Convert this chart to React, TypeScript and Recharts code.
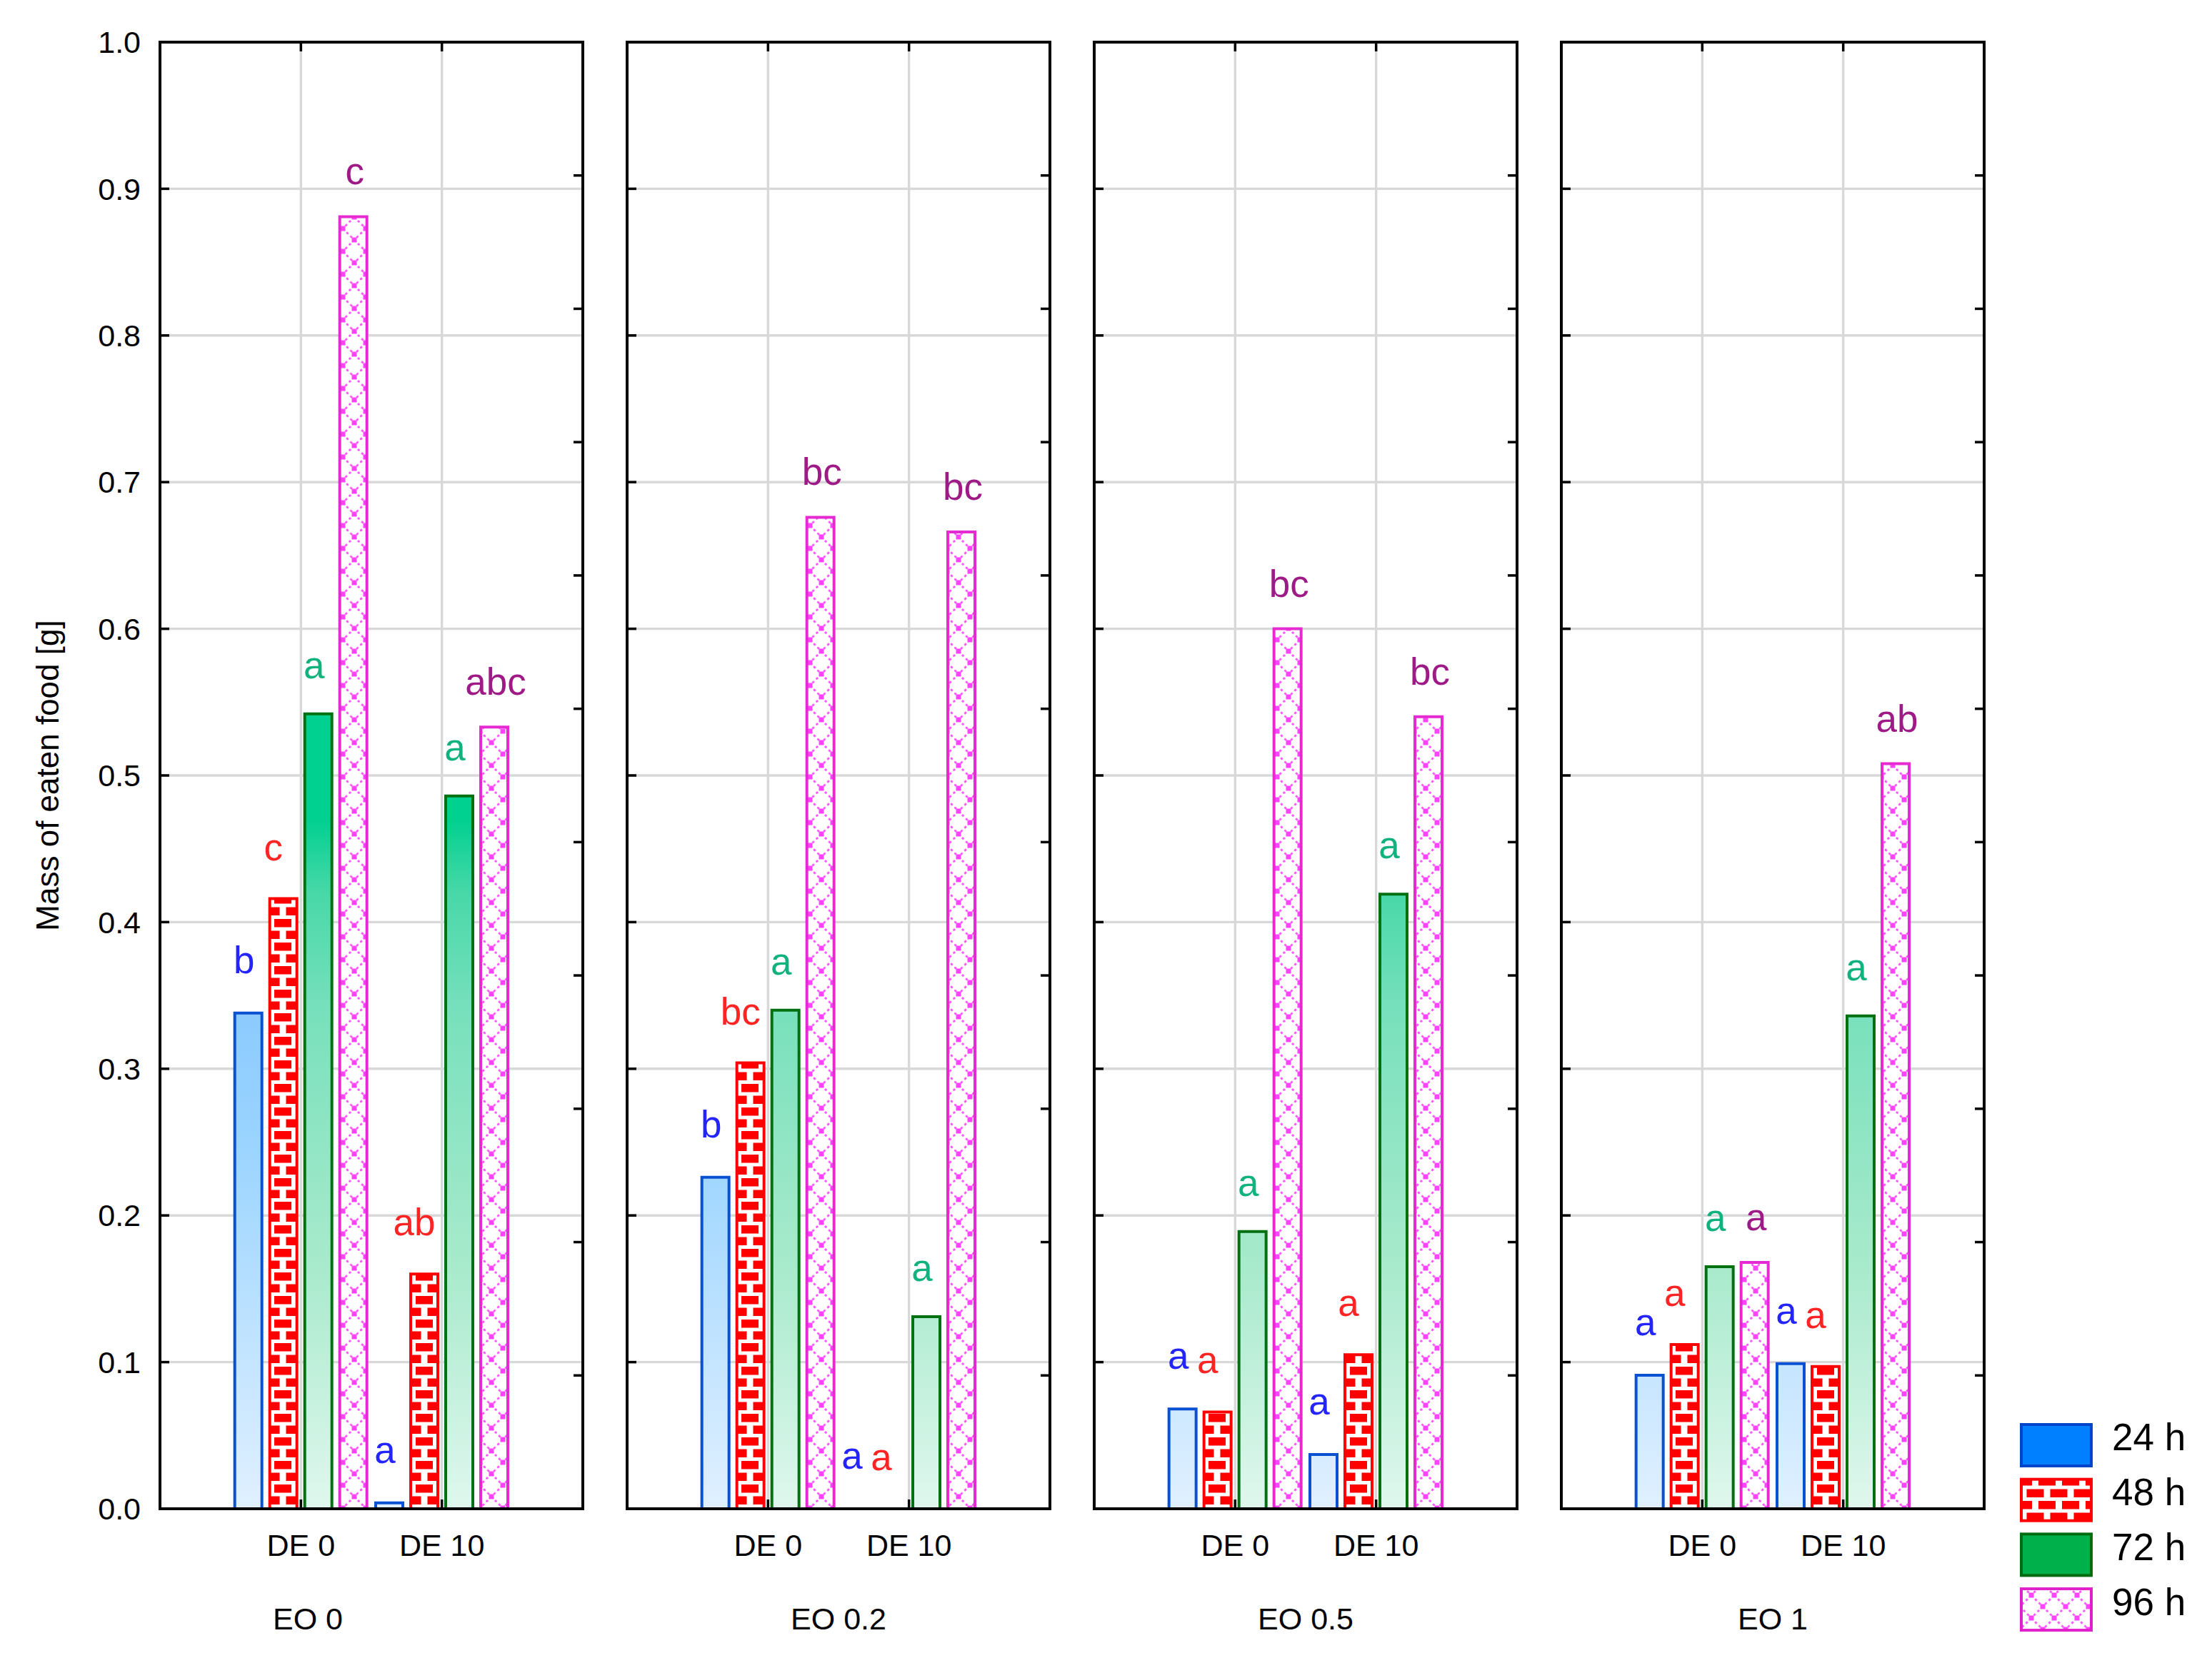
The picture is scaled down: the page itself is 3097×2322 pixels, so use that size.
import React from 'react';
import { BarChart, Bar, XAxis, YAxis, CartesianGrid, LabelList, Cell } from 'recharts';

// ---------- data ----------
const groups = ['EO 0', 'EO 0.2', 'EO 0.5', 'EO 1'];
const categories = ['DE 0', 'DE 10'];
const seriesNames = ['24 h', '48 h', '72 h', '96 h'];
const yTicks = [0, 0.1, 0.2, 0.3, 0.4, 0.5, 0.6, 0.7, 0.8, 0.9, 1.0];
const rightTicks = [0, 1, 2, 3, 4, 5, 6, 7, 8, 9, 10, 11];

// values per group: [DE 0, DE 10]
const values24 = [[0.338, 0.004], [0.226, 0], [0.068, 0.037], [0.091, 0.099]];
const values48 = [[0.416, 0.160], [0.304, 0], [0.066, 0.105], [0.112, 0.097]];
const values72 = [[0.542, 0.486], [0.340, 0.131], [0.189, 0.419], [0.165, 0.336]];
const values96 = [[0.881, 0.533], [0.676, 0.666], [0.600, 0.540], [0.168, 0.508]];

const letters24 = [['b', 'a'], ['b', 'a'], ['a', 'a'], ['a', 'a']];
const letters48 = [['c', 'ab'], ['bc', 'a'], ['a', 'a'], ['a', 'a']];
const letters72 = [['a', 'a'], ['a', 'a'], ['a', 'a'], ['a', 'a']];
const letters96 = [['c', 'abc'], ['bc', 'bc'], ['bc', 'bc'], ['a', 'ab']];

const groupLabelShift = [-89, 0, 0, 0];

// ---------- layout ----------
const PLOT_TOP = 59;
const PLOT_H = 2054;
const PLOT_W = 592;
const AXIS_W = 224;
const PANEL_STEP = 654;
const CHART_W = 836;
const CHART_H = 2322;
const XAXIS_H = 60;
const MARGIN_BOTTOM = CHART_H - PLOT_TOP - PLOT_H - XAXIS_H;
const PAD = PLOT_W / 6;
const FONT = '"Liberation Sans", Arial, Helvetica, sans-serif';
const GRAD_TOP = 0.47;
const Y_LABEL_GAP = 27;
const X_LABEL_GAP = 35;
const TICK_LEN = 13;
const TICK_W = 3.5;

const labelColors = ['#2424ff', '#ff2424', '#12b27e', '#9e1a86'];
const labelOffsets = [56, 54, 50, 45];
const labelShifts = [-6, -14, -6, 2];
const barStrokes = ['#0a50d2', '#ff0000', '#007010', '#e62ad2'];

const EmptyTick = () => <g />;

function makeLeftTick(showLabel: boolean) {
  return (props: any) => {
    const { x, y, payload } = props;
    const edge = x + Y_LABEL_GAP;
    return (
      <g>
        <line x1={edge} x2={edge + TICK_LEN} y1={y} y2={y} stroke="#000" strokeWidth={TICK_W} />
        {showLabel && (
          <text x={x} y={y} dy="0.355em" textAnchor="end" fontSize={43} fontFamily={FONT} fill="#000">
            {Number(payload.value).toFixed(1)}
          </text>
        )}
      </g>
    );
  };
}

const BottomTick = (props: any) => {
  const { x, y, payload } = props;
  const edge = y - X_LABEL_GAP;
  return (
    <g>
      <line x1={x} x2={x} y1={edge} y2={edge - TICK_LEN} stroke="#000" strokeWidth={TICK_W} />
      <line x1={x} x2={x} y1={PLOT_TOP} y2={PLOT_TOP + TICK_LEN} stroke="#000" strokeWidth={TICK_W} />
      <text x={x} y={y} dy="0.71em" textAnchor="middle" fontSize={43} fontFamily={FONT} fill="#000">
        {payload.value}
      </text>
    </g>
  );
};

function BrickPattern({ id }: { id: string }) {
  return (
    <pattern id={id} patternUnits="userSpaceOnUse" width="33" height="33">
      <rect x="0" y="0" width="33" height="33" fill="#ffffff" />
      <rect x="0" y="0" width="12" height="11.5" fill="#ff0000" />
      <rect x="21" y="0" width="12" height="11.5" fill="#ff0000" />
      <rect x="4.5" y="16.5" width="24" height="11.5" fill="#ff0000" />
    </pattern>
  );
}

function LatticePattern({ id, x = 0, y = 0 }: { id: string; x?: number; y?: number }) {
  return (
    <pattern id={id} patternUnits="userSpaceOnUse" width="32" height="32" x={x} y={y}>
      <rect x="0" y="0" width="32" height="32" fill="#ffffff" />
      <path d="M0,0 L32,32 M32,0 L0,32" stroke="#ff55ff" strokeWidth="2.8" strokeDasharray="3.4 4" fill="none" />
      <rect x="-3.5" y="-3.5" width="7" height="7" fill="#ff44ff" />
      <rect x="28.5" y="-3.5" width="7" height="7" fill="#ff44ff" />
      <rect x="-3.5" y="28.5" width="7" height="7" fill="#ff44ff" />
      <rect x="28.5" y="28.5" width="7" height="7" fill="#ff44ff" />
      <rect x="12.5" y="12.5" width="7" height="7" fill="#ff44ff" />
    </pattern>
  );
}

function Patterns({ suffix }: { suffix: string }) {
  const yTop = PLOT_TOP + (1 - GRAD_TOP) * PLOT_H;
  const yBot = PLOT_TOP + PLOT_H;
  return (
    <defs>
      <linearGradient id={`blue-${suffix}`} gradientUnits="userSpaceOnUse" x1="0" x2="0" y1={yTop} y2={yBot}>
        <stop offset="0" stopColor="#60b8ff" />
        <stop offset="0.28" stopColor="#8ccaff" />
        <stop offset="0.47" stopColor="#9ad4ff" />
        <stop offset="0.81" stopColor="#c8e6ff" />
        <stop offset="1" stopColor="#e0f0ff" />
      </linearGradient>
      <linearGradient id={`green-${suffix}`} gradientUnits="userSpaceOnUse" x1="0" x2="0" y1={yTop} y2={yBot}>
        <stop offset="0" stopColor="#00d090" />
        <stop offset="0.106" stopColor="#48d8a8" />
        <stop offset="0.277" stopColor="#78e0bc" />
        <stop offset="0.649" stopColor="#a8eacc" />
        <stop offset="1" stopColor="#e0f7ee" />
      </linearGradient>
      <BrickPattern id={`brick-${suffix}`} />
      <LatticePattern id={`lattice-${suffix}`} />
    </defs>
  );
}

function Panel({ index }: { index: number }) {
  const data = categories.map((c, j) => ({
    de: c,
    v24: values24[index][j],
    v48: values48[index][j],
    v72: values72[index][j],
    v96: values96[index][j],
    l24: letters24[index][j],
    l48: letters48[index][j],
    l72: letters72[index][j],
    l96: letters96[index][j],
  }));
  const s = String(index);
  const first = index === 0;
  const frame = { stroke: '#000', strokeWidth: 4, strokeLinecap: 'square' as const };
  const tickStroke = { stroke: '#000', strokeWidth: TICK_W };
  const keys = ['v24', 'v48', 'v72', 'v96'];
  const lkeys = ['l24', 'l48', 'l72', 'l96'];
  const fills = [`url(#blue-${s})`, `url(#brick-${s})`, `url(#green-${s})`, `url(#lattice-${s})`];

  return (
    <div style={{ position: 'absolute', left: index * PANEL_STEP, top: 0 }}>
      <BarChart
        width={CHART_W}
        height={CHART_H}
        data={data}
        margin={{ top: PLOT_TOP, right: CHART_W - AXIS_W - PLOT_W, bottom: MARGIN_BOTTOM, left: 0 }}
        barSize={38}
        barGap={11}
      >
        <Patterns suffix={s} />
        <CartesianGrid stroke="#d8d8d8" strokeWidth={3.4} />
        {keys.map((k, si) => (
          <Bar
            key={k}
            dataKey={k}
            name={seriesNames[si]}
            fill={fills[si]}
            stroke={barStrokes[si]}
            strokeWidth={4}
            minPointSize={0.01}
            isAnimationActive={false}
          >
            {data.map((d: any, j) => (
              <Cell key={j} stroke={d[k] === 0 ? 'none' : barStrokes[si]} fill={d[k] === 0 ? 'none' : fills[si]} />
            ))}
            <LabelList
              dataKey={lkeys[si]}
              position="top"
              offset={labelOffsets[si]}
              dx={labelShifts[si]}
              fontSize={53}
              fontFamily={FONT}
              fill={labelColors[si]}
            />
          </Bar>
        ))}

        <XAxis
          dataKey="de"
          height={XAXIS_H}
          interval={0}
          padding={{ left: PAD, right: PAD }}
          axisLine={frame}
          tickLine={false}
          tickSize={0}
          tickMargin={X_LABEL_GAP}
          tick={BottomTick}
          label={{
            content: (p: any) => {
              const vb = p.viewBox || {};
              return (
                <text
                  x={vb.x + vb.width / 2 + groupLabelShift[index]}
                  y={vb.y + 169}
                  textAnchor="middle"
                  fontSize={43}
                  fontFamily={FONT}
                  fill="#000"
                >
                  {groups[index]}
                </text>
              );
            },
          }}
        />
        <XAxis
          xAxisId="top"
          dataKey="de"
          orientation="top"
          mirror
          interval={0}
          padding={{ left: PAD, right: PAD }}
          axisLine={frame}
          tickLine={false}
          tick={false}
        />
        <YAxis
          width={AXIS_W}
          domain={[0, 1]}
          ticks={yTicks}
          interval={0}
          axisLine={frame}
          tickLine={false}
          tickSize={0}
          tickMargin={Y_LABEL_GAP}
          tick={makeLeftTick(first)}
          label={
            first
              ? {
                  content: (p: any) => {
                    const vb = p.viewBox || {};
                    const cx = vb.x + 82;
                    const cy = vb.y + vb.height / 2;
                    return (
                      <text
                        transform={`translate(${cx},${cy}) rotate(-90)`}
                        textAnchor="middle"
                        fontSize={44}
                        fontFamily={FONT}
                        fill="#000"
                      >
                        Mass of eaten food [g]
                      </text>
                    );
                  },
                }
              : undefined
          }
        />
        <YAxis
          yAxisId="r"
          orientation="right"
          mirror
          type="number"
          domain={[0, 11]}
          allowDataOverflow
          ticks={rightTicks}
          interval={0}
          axisLine={frame}
          stroke="#000"
          tickLine={tickStroke}
          tickSize={TICK_LEN}
          tick={EmptyTick}
        />
      </BarChart>
    </div>
  );
}

const legendFills = ['#0080ff', 'url(#lg-brick)', '#00b04a', 'url(#lg-lattice)'];
const legendStrokes = ['#0044cc', '#ff0000', '#006c10', '#e020c8'];

function LegendBox() {
  return (
    <svg
      width={297}
      height={352}
      style={{ position: 'absolute', left: 2800, top: 1970 }}
    >
      <defs>
        <BrickPattern id="lg-brick" />
        <LatticePattern id="lg-lattice" x={12} y={8} />
      </defs>
      {seriesNames.map((name, i) => (
        <g key={name}>
          <rect
            x={30}
            y={25 + i * 76.7}
            width={98}
            height={58}
            fill={legendFills[i]}
            stroke={legendStrokes[i]}
            strokeWidth={4}
          />
          <text x={157} y={61 + i * 77} fontSize={53} fontFamily={FONT} fill="#000">
            {name}
          </text>
        </g>
      ))}
    </svg>
  );
}

export default function App() {
  return (
    <div
      style={{
        position: 'absolute',
        left: 0,
        top: 0,
        width: 3097,
        height: 2322,
        background: '#fff',
        fontFamily: FONT,
        overflow: 'hidden',
      }}
    >
      {groups.map((g, i) => (
        <Panel key={g} index={i} />
      ))}
      <LegendBox />
    </div>
  );
}
